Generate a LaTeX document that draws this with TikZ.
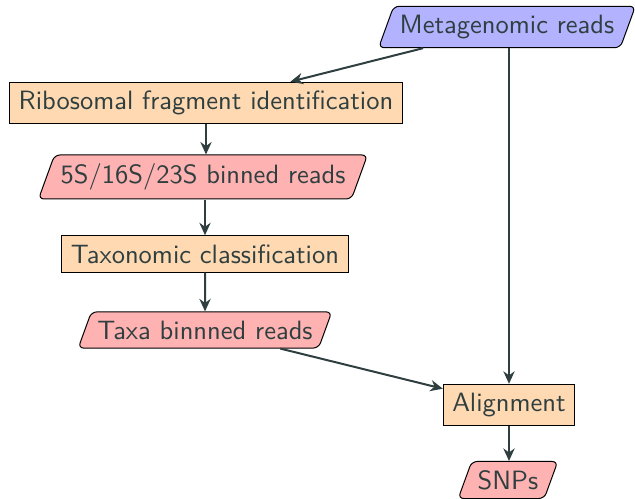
\documentclass[tikz,border=0pt]{standalone}
\usetikzlibrary{shapes.geometric,arrows.meta}
\definecolor{txt}{HTML}{2F3F3F}
\begin{document}
\begin{tikzpicture}[x=0.4pt,y=-0.4pt,
  font=\sffamily\fontsize{10.6}{12.7}\selectfont, text=txt,
  proc/.style={draw=black, line width=0.4pt, fill=orange!30, rectangle, inner xsep=3.6pt, inner ysep=3.5pt},
  data/.style={draw=black, line width=0.4pt, trapezium, trapezium left angle=70, trapezium right angle=110, rounded corners=2.2pt, inner xsep=2.4pt, inner ysep=3.5pt},
  red/.style={data, fill=red!30},
  blu/.style={data, fill=blue!30},
  conn/.style={draw=txt, line width=0.8pt, -{Stealth[length=5pt,width=4.5pt]}}]
\useasboundingbox (0,0) rectangle (635,499);
\node[blu] (meta) at (507,27) {Metagenomic reads};
\node[proc] (ribo) at (206,103) {Ribosomal fragment identification};
\node[red] (bin) at (203,177) {5S/16S/23S binned reads};
\node[proc] (tax) at (205,254) {Taxonomic classification};
\node[red] (taxa) at (205,330) {Taxa binnned reads};
\node[proc] (ali) at (509,405) {Alignment};
\node[red] (snp) at (508,480) {SNPs};
\draw[conn] (meta) -- (ribo);
\draw[conn] (ribo) -- (ribo|-bin.north);
\draw[conn] (bin.south-|tax) -- (tax);
\draw[conn] (tax) -- (taxa);
\draw[conn] (meta.south-|ali) -- (ali);
\draw[conn] (taxa) -- (ali);
\draw[conn] (ali) -- (snp.north-|ali);
\end{tikzpicture}
\end{document}
